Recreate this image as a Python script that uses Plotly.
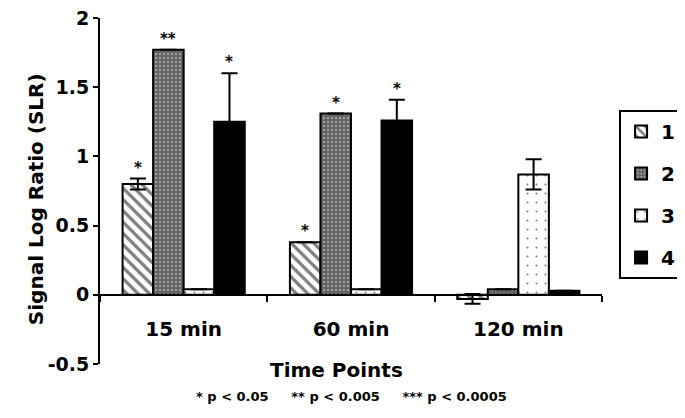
import plotly.graph_objects as go

# Data
time_points = ['15 min', '60 min', '120 min']
series_names = ['1', '2', '3', '4']
values_1 = [0.80, 0.38, -0.03]
values_2 = [1.77, 1.31, 0.04]
values_3 = [0.04, 0.04, 0.87]
values_4 = [1.25, 1.26, 0.03]
errors_1 = [0.04, 0.0, 0.035]
errors_2 = [0.0, 0.0, 0.0]
errors_3 = [0.0, 0.0, 0.11]
errors_4 = [0.35, 0.15, 0.0]
stars_1 = ['*', '*', '']
stars_2 = ['**', '*', '']
stars_3 = ['', '', '']
stars_4 = ['*', '*', '']
y_ticks = [-0.5, 0, 0.5, 1, 1.5, 2]
y_tick_text = ['-0.5', '0', '0.5', '1', '1.5', '2']

all_values = [values_1, values_2, values_3, values_4]
all_errors = [errors_1, errors_2, errors_3, errors_4]
all_stars = [stars_1, stars_2, stars_3, stars_4]

patterns = [
    dict(shape='\\', size=8, solidity=0.4, fgcolor='black', bgcolor='white'),
    dict(shape='.', size=4, solidity=0.8, fgcolor='black', bgcolor='#c8c8c8'),
    dict(shape='.', size=9, solidity=0.04, fgcolor='black', bgcolor='white'),
    dict(shape='', fgcolor='black', bgcolor='black'),
]
fills = ['white', 'white', 'white', 'black']

FONT = 'DejaVu Sans'
W, H = 685, 418
# page body has an 8px margin, so the figure is offset by 8px
margin = dict(l=92, r=91, t=10, b=62, autoexpand=False)
bargap = 0.27

fig = go.Figure()
for i, name in enumerate(series_names):
    fig.add_trace(go.Bar(
        x=time_points,
        y=all_values[i],
        name=name,
        legendgroup=name,
        marker=dict(color=fills[i], pattern=patterns[i],
                    line=dict(color='black', width=2)),
        error_y=dict(type='data', array=all_errors[i], visible=True,
                     color='black', thickness=2, width=8),
    ))

# significance stars above bars
plot_w = W - margin['l'] - margin['r']
cat_px = plot_w / len(time_points)
bar_px = cat_px * (1 - bargap) / len(series_names)
for i in range(len(series_names)):
    for j, tp in enumerate(time_points):
        if all_stars[i][j]:
            fig.add_annotation(
                x=tp, y=all_values[i][j] + all_errors[i][j],
                xshift=(i - 1.5) * bar_px, yshift=0,
                yanchor='bottom', showarrow=False,
                text=all_stars[i][j],
                font=dict(family=FONT, size=15, color='black', weight='bold'))

fig.add_annotation(
    x=-0.155, y=0.477, xref='paper', yref='paper', textangle=-90,
    text='Signal Log Ratio (SLR)', showarrow=False,
    font=dict(family=FONT, size=20, color='black', weight='bold'))
fig.add_annotation(
    x=0.472, y=-0.017, xref='paper', yref='paper', yanchor='middle',
    text='Time Points', showarrow=False,
    font=dict(family=FONT, size=20, color='black', weight='bold'))
gap = '\u00a0' * 5
fig.add_annotation(
    x=0.5, y=-0.094, xref='paper', yref='paper', yanchor='middle',
    text='* p < 0.05' + gap + '** p < 0.005' + gap + '*** p < 0.0005',
    showarrow=False,
    font=dict(family=FONT, size=13, color='black', weight='bold'))

fig.update_layout(
    width=W, height=H,
    margin=margin,
    paper_bgcolor='white', plot_bgcolor='white',
    barmode='group', bargap=bargap, bargroupgap=0,
    font=dict(family=FONT, color='black'),
    legend=dict(
        x=1.034, y=0.734, xanchor='left', yanchor='top',
        bordercolor='black', borderwidth=2,
        font=dict(family=FONT, size=20, color='black', weight='bold'),
        tracegroupgap=13, traceorder='grouped',
    ),
    xaxis=dict(
        anchor='free', position=0.2, automargin=False,
        showline=True, linecolor='black', linewidth=2,
        ticks='outside', tickson='boundaries', ticklen=6, tickwidth=2,
        tickcolor='black', ticklabelstandoff=16,
        tickfont=dict(family=FONT, size=20, color='black', weight='bold'),
        showgrid=False,
    ),
    yaxis=dict(
        range=[-0.5, 2], tickvals=y_ticks, ticktext=y_tick_text,
        automargin=False, ticklabeloverflow='allow',
        showline=True, linecolor='black', linewidth=2,
        ticks='outside', ticklen=5, tickwidth=2, tickcolor='black',
        tickfont=dict(family=FONT, size=19, color='black', weight='bold'),
        showgrid=False, zeroline=False,
    ),
)

fig.write_html('out.html')
